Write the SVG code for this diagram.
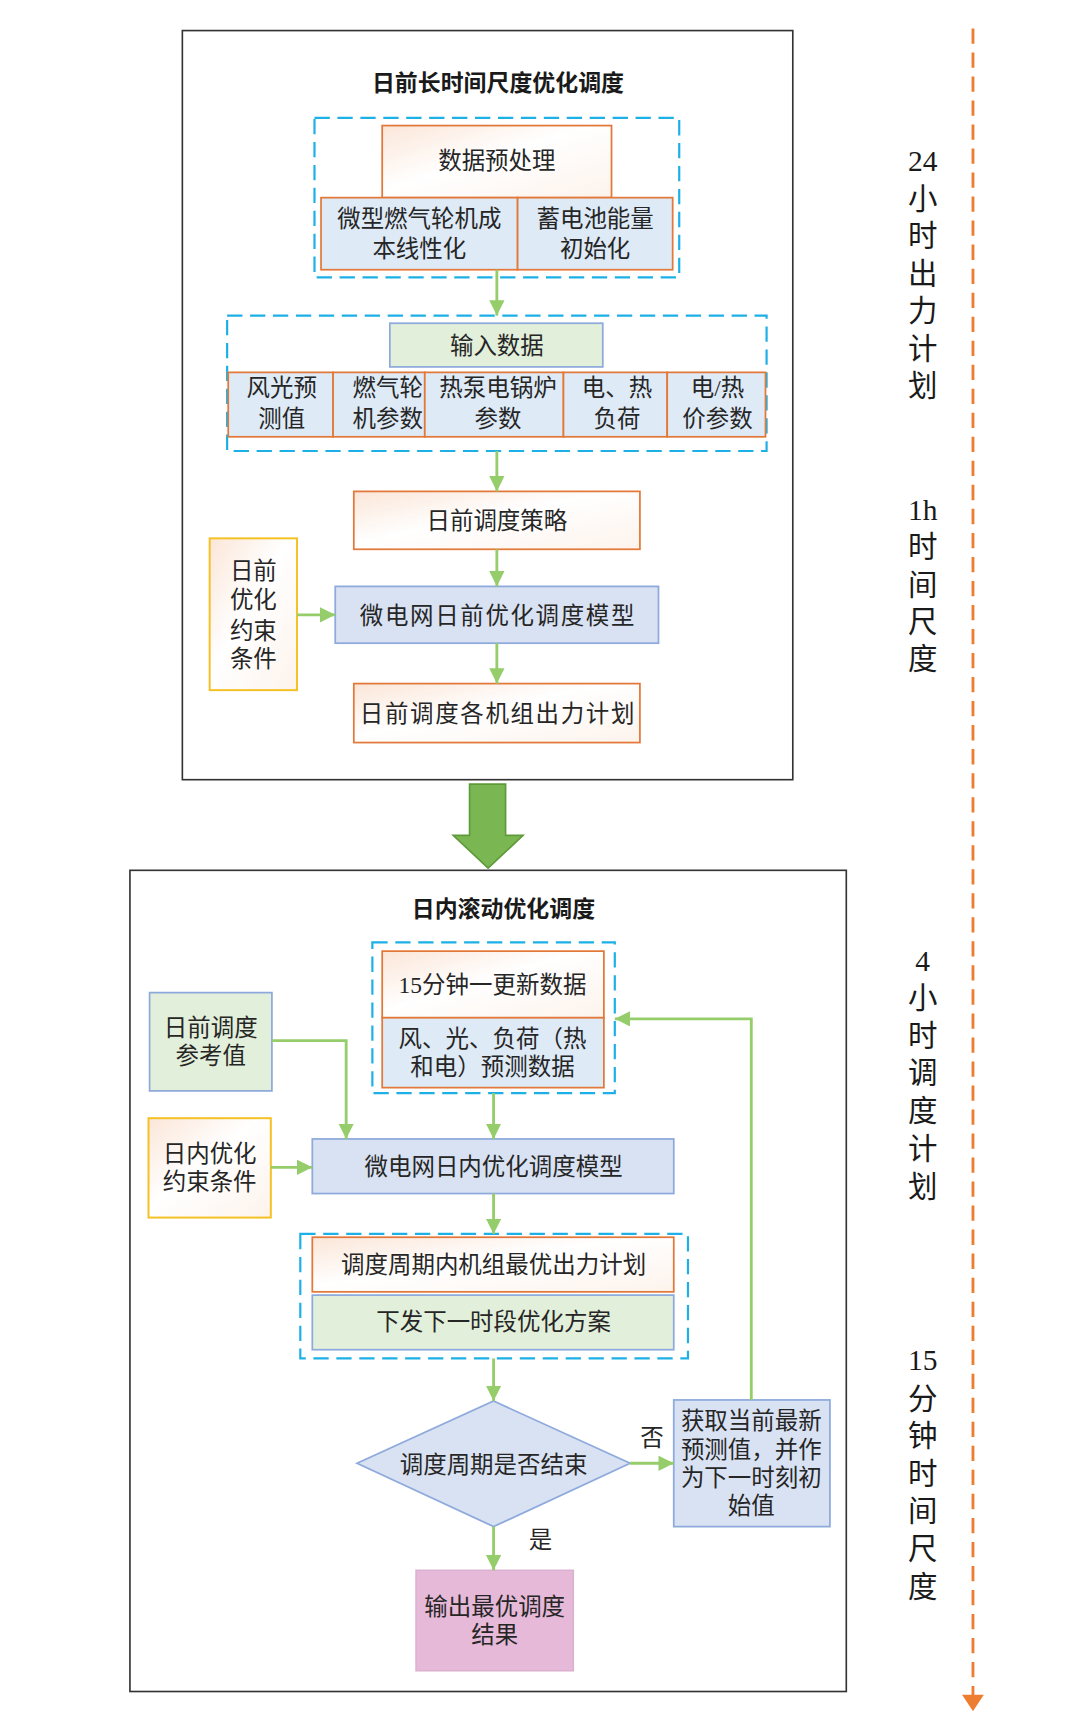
<svg xmlns="http://www.w3.org/2000/svg" width="1080" height="1711" viewBox="0 0 1080 1711">
<defs>
<style>
.t{font-family:"Liberation Serif","Noto Sans CJK SC",serif;font-size:21.5px;fill:#262626;text-anchor:middle}
.ttl{font-family:"Noto Sans CJK SC",sans-serif;font-size:21px;font-weight:bold;fill:#1a1a1a;text-anchor:middle}
.side{font-family:"Liberation Serif","Noto Sans CJK SC",serif;font-size:27px;fill:#1a1a1a;text-anchor:middle}
.outer{fill:#ffffff;stroke:#333333;stroke-width:1.5}
.dash{fill:none;stroke:#1cb0e6;stroke-width:2;stroke-dasharray:14 7}
.or{fill:url(#gO);stroke:#e2793a;stroke-width:1.6}
.orb{fill:#deeaf6;stroke:#e2793a;stroke-width:1.6}
.bl{fill:#d9e2f3;stroke:#8eaadc;stroke-width:1.6}
.gr{fill:#e2efda;stroke:#8eaadc;stroke-width:1.6}
.yl{fill:url(#gO);stroke:#f5c022;stroke-width:1.8}
.pk{fill:#e6b9d8;stroke:#dcb0d0;stroke-width:1.4}
.ln{fill:none;stroke:#94cd6a;stroke-width:2.6}
.ar{fill:none;stroke:#94cd6a;stroke-width:2.6;marker-end:url(#ah)}
</style>
<linearGradient id="gO" x1="0" y1="0" x2="1" y2="1">
<stop offset="0" stop-color="#fbe6d8"/>
<stop offset="0.45" stop-color="#ffffff"/>
<stop offset="1" stop-color="#fdf3ec"/>
</linearGradient>
<marker id="ah" markerUnits="userSpaceOnUse" markerWidth="16" markerHeight="16" refX="14" refY="7" orient="auto">
<path d="M0,0 L14,7 L0,14 z" fill="#94cd6a"/>
</marker>
</defs>
<rect width="1080" height="1711" fill="#ffffff"/>
<g transform="scale(1.092)">
<g id="stage-dayahead">
<rect class="outer" x="167" y="28" width="559" height="686"/>
<text class="ttl" x="456" y="83">日前长时间尺度优化调度</text>
</g>
<g id="group-preprocess">
<rect class="dash" x="288" y="108" width="334" height="146"/>
</g>
<g id="n-preprocess">
<rect class="or" x="350" y="115" width="210" height="66"/>
<text class="t" x="455" y="155">数据预处理</text>
</g>
<g id="n-mt-linear">
<rect class="orb" x="294" y="181" width="180" height="66"/>
<text class="t" x="384" y="208">微型燃气轮机成</text>
<text class="t" x="384" y="235">本线性化</text>
</g>
<g id="n-battery-init">
<rect class="orb" x="474" y="181" width="142" height="66"/>
<text class="t" x="545" y="208">蓄电池能量</text>
<text class="t" x="545" y="235">初始化</text>
</g>
<g id="group-input">
<rect class="dash" x="208" y="289" width="494" height="124"/>
</g>
<g id="n-input">
<rect class="gr" x="357" y="296" width="195" height="40"/>
<text class="t" x="455" y="324">输入数据</text>
</g>
<g id="n-wind-solar">
<rect class="orb" x="209" y="341" width="96" height="59"/>
<text class="t" x="258" y="363">风光预</text>
<text class="t" x="258" y="391">测值</text>
</g>
<g id="n-gt-param">
<rect class="orb" x="305" y="341" width="84" height="59"/>
<text class="t" x="355" y="363">燃气轮</text>
<text class="t" x="355" y="391">机参数</text>
</g>
<g id="n-hp-param">
<rect class="orb" x="389" y="341" width="127" height="59"/>
<text class="t" x="456" y="363">热泵电锅炉</text>
<text class="t" x="456" y="391">参数</text>
</g>
<g id="n-load">
<rect class="orb" x="516" y="341" width="95" height="59"/>
<text class="t" x="565" y="363">电、热</text>
<text class="t" x="565" y="391">负荷</text>
</g>
<g id="n-price">
<rect class="orb" x="611" y="341" width="90" height="59"/>
<text class="t" x="657" y="363">电/热</text>
<text class="t" x="657" y="391">价参数</text>
</g>
<g id="n-strategy">
<rect class="or" x="324" y="450" width="262" height="53"/>
<text class="t" x="455" y="484">日前调度策略</text>
</g>
<g id="n-da-model">
<rect class="bl" x="307" y="537" width="296" height="52"/>
<text class="t" x="456" y="571" style="letter-spacing:1.5px">微电网日前优化调度模型</text>
</g>
<g id="n-da-plan">
<rect class="or" x="324" y="626" width="262" height="54"/>
<text class="t" x="456" y="661" style="letter-spacing:1.5px">日前调度各机组出力计划</text>
</g>
<g id="n-da-constraint">
<rect class="yl" x="192" y="493" width="80" height="139"/>
<text class="t" x="232" y="530">日前</text>
<text class="t" x="232" y="557">优化</text>
<text class="t" x="232" y="585">约束</text>
<text class="t" x="232" y="611">条件</text>
</g>
<g id="big-arrow">
<polygon points="430,718 463,718 463,765 479,765 447,795 415,765 430,765" fill="#7ab651" stroke="#5f9a3a" stroke-width="1.5"/>
</g>
<g id="stage-intraday">
<rect class="outer" x="119" y="797" width="656" height="752"/>
<text class="ttl" x="461" y="840">日内滚动优化调度</text>
</g>
<g id="group-update">
<rect class="dash" x="341" y="863" width="222" height="138"/>
</g>
<g id="n-update">
<rect class="or" x="350" y="871" width="203" height="61"/>
<text class="t" x="451" y="909">15分钟一更新数据</text>
</g>
<g id="n-forecast">
<rect class="orb" x="350" y="932" width="203" height="64"/>
<text class="t" x="451" y="959">风、光、负荷（热</text>
<text class="t" x="451" y="984">和电）预测数据</text>
</g>
<g id="n-da-ref">
<rect class="gr" x="137" y="909" width="112" height="90"/>
<text class="t" x="193" y="949">日前调度</text>
<text class="t" x="193" y="974">参考值</text>
</g>
<g id="n-id-constraint">
<rect class="yl" x="136" y="1024" width="112" height="91"/>
<text class="t" x="192" y="1064">日内优化</text>
<text class="t" x="192" y="1090">约束条件</text>
</g>
<g id="n-id-model">
<rect class="bl" x="286" y="1043" width="331" height="50"/>
<text class="t" x="452" y="1076">微电网日内优化调度模型</text>
</g>
<g id="group-result">
<rect class="dash" x="275" y="1130" width="355" height="114"/>
</g>
<g id="n-id-plan">
<rect class="or" x="286" y="1133" width="331" height="50"/>
<text class="t" x="452" y="1166">调度周期内机组最优出力计划</text>
</g>
<g id="n-issue">
<rect class="gr" x="286" y="1186" width="331" height="50"/>
<text class="t" x="452" y="1218">下发下一时段优化方案</text>
</g>
<g id="n-decision">
<polygon points="452,1283 577,1340 452,1398 327,1340" fill="#d9e2f3" stroke="#8eaadc" stroke-width="1.6"/>
<text class="t" x="452" y="1349">调度周期是否结束</text>
</g>
<g id="n-update-init">
<rect class="bl" x="617" y="1282" width="143" height="116"/>
<text class="t" x="688" y="1309">获取当前最新</text>
<text class="t" x="688" y="1335">预测值，并作</text>
<text class="t" x="688" y="1361">为下一时刻初</text>
<text class="t" x="688" y="1386">始值</text>
</g>
<g id="n-output">
<rect class="pk" x="381" y="1438" width="144" height="92"/>
<text class="t" x="453" y="1479">输出最优调度</text>
<text class="t" x="453" y="1505">结果</text>
</g>
<g id="connectors">
<path class="ar" d="M455,247 V289"/>
<path class="ar" d="M455,413 V450"/>
<path class="ar" d="M455,503 V537"/>
<path class="ar" d="M455,589 V626"/>
<path class="ar" d="M272,563 H307"/>
<path class="ar" d="M452,1001 V1043"/>
<path class="ar" d="M249,953 H317 V1043"/>
<path class="ar" d="M248,1069 H286"/>
<path class="ar" d="M452,1093 V1130"/>
<path class="ar" d="M452,1244 V1283"/>
<path class="ar" d="M577,1340 H617"/>
<path class="ar" d="M452,1398 V1438"/>
<path class="ar" d="M688,1282 V933 H563"/>
<text class="t" x="597" y="1324">否</text>
<text class="t" x="495" y="1418">是</text>
</g>
<g id="timeline">
<line x1="891" y1="26" x2="891" y2="1553" stroke="#ed7d31" stroke-width="2.6" stroke-dasharray="14 8"/>
<polygon points="881,1552 901,1552 891,1567" fill="#ed7d31"/>
<text class="side" x="845" y="157">24</text>
<text class="side" x="845" y="191">小</text>
<text class="side" x="845" y="225">时</text>
<text class="side" x="845" y="260">出</text>
<text class="side" x="845" y="294">力</text>
<text class="side" x="845" y="329">计</text>
<text class="side" x="845" y="363">划</text>
<text class="side" x="845" y="476">1h</text>
<text class="side" x="845" y="510">时</text>
<text class="side" x="845" y="545">间</text>
<text class="side" x="845" y="579">尺</text>
<text class="side" x="845" y="613">度</text>
<text class="side" x="845" y="889">4</text>
<text class="side" x="845" y="923">小</text>
<text class="side" x="845" y="958">时</text>
<text class="side" x="845" y="992">调</text>
<text class="side" x="845" y="1027">度</text>
<text class="side" x="845" y="1061">计</text>
<text class="side" x="845" y="1096">划</text>
<text class="side" x="845" y="1255">15</text>
<text class="side" x="845" y="1290">分</text>
<text class="side" x="845" y="1324">钟</text>
<text class="side" x="845" y="1359">时</text>
<text class="side" x="845" y="1393">间</text>
<text class="side" x="845" y="1428">尺</text>
<text class="side" x="845" y="1462">度</text>
</g>
</g>
</svg>
